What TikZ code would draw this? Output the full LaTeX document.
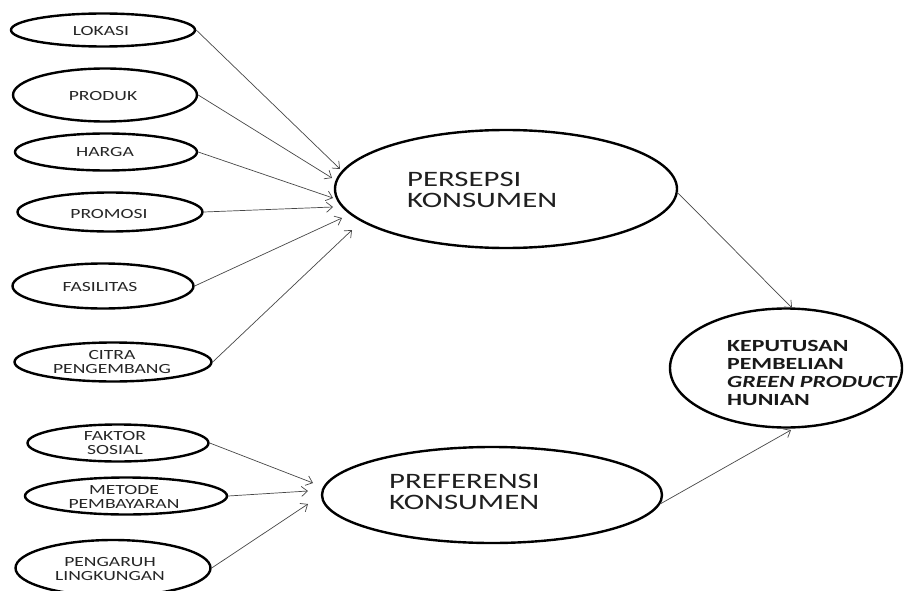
\documentclass[tikz,border=0pt]{standalone}
\usepackage{fontspec}
\setmainfont{Carlito}[FakeStretch=1.4]
\usetikzlibrary{shapes.geometric,arrows.meta}
\begin{document}
\begin{tikzpicture}[x=1pt,y=-1pt,
  oval/.style={draw=black, line width=2.4pt, ellipse, inner sep=0pt},
  smalltxt/.style={font=\fontsize{14}{14.5}\selectfont, align=center, text=black!85, inner sep=0pt},
  bigtxt/.style={font=\fontsize{22}{21}\selectfont, align=left, text=black!88, inner sep=0pt},
  boldtxt/.style={font=\bfseries\fontsize{17}{18}\selectfont, align=left, text=black!90, inner sep=0pt},
  conn/.style={draw=black!72, line width=0.7pt, -{Straight Barb[length=6pt,width=10pt,line width=0.7pt]}}]
\useasboundingbox (0,0) rectangle (904,591);
\fill[white] (0,0) rectangle (904,591);
\begin{scope}
\clip (0,0) rectangle (904,591);
% left ellipses
\node[oval, minimum width=184pt, minimum height=33pt] (lokasi) at (103,30) {};
\node[smalltxt] (lokasit) at (101,31) {LOKASI};
\node[oval, minimum width=184pt, minimum height=53pt] (produk) at (105,95) {};
\node[smalltxt] (produkt) at (103,96) {PRODUK};
\node[oval, minimum width=182pt, minimum height=37pt] (harga) at (106,152) {};
\node[smalltxt] (hargat) at (105,152) {HARGA};
\node[oval, minimum width=185pt, minimum height=39pt] (promosi) at (110,212) {};
\node[smalltxt] (promosit) at (109,214) {PROMOSI};
\node[oval, minimum width=181pt, minimum height=45pt] (fasilitas) at (103,286) {};
\node[smalltxt] (fasilitast) at (100,287) {FASILITAS};
\node[oval, minimum width=197pt, minimum height=39pt] (citra) at (113,362) {};
\node[smalltxt] (citrat) at (112,362) {CITRA\\PENGEMBANG};
\node[oval, minimum width=181pt, minimum height=37pt] (faktor) at (118,443) {};
\node[smalltxt] (faktort) at (115,443) {FAKTOR\\SOSIAL};
\node[oval, minimum width=202pt, minimum height=37pt] (metode) at (126,496) {};
\node[smalltxt] (metodet) at (124,497) {METODE\\PEMBAYARAN};
\node[oval, minimum width=195pt, minimum height=56pt] (pengaruh) at (113,568) {};
\node[smalltxt] (pengaruht) at (110,569) {PENGARUH\\LINGKUNGAN};
% big ellipses
\node[oval, minimum width=342pt, minimum height=118pt] (persepsi) at (506,189) {};
\node[bigtxt, anchor=west] (persepsit) at (407,190) {PERSEPSI\\KONSUMEN};
\node[oval, minimum width=340pt, minimum height=96pt] (preferensi) at (492,495) {};
\node[bigtxt, anchor=west] (preferensit) at (389,492) {PREFERENSI\\KONSUMEN};
\node[oval, minimum width=232pt, minimum height=119pt] (keputusan) at (786,368) {};
\node[boldtxt, anchor=west] (keputusant) at (727,373) {KEPUTUSAN\\PEMBELIAN\\\textit{GREEN PRODUCT}\\HUNIAN};
% connectors
\draw[conn] (lokasi.east) -- ([shift={(-166,-20)}]persepsi.center);
\draw[conn] (produk.east) -- ([shift={(-174,-11)}]persepsi.center);
\draw[conn] (harga.east) -- ([shift={(-173,9)}]persepsi.center);
\draw[conn] (promosi.east) -- ([shift={(-173,18)}]persepsi.center);
\draw[conn] (fasilitas.east) -- ([shift={(-164,29)}]persepsi.center);
\draw[conn] (citra.east) -- ([shift={(-154,41)}]persepsi.center);
\draw[conn] (faktor.east) -- ([shift={(-179,-12)}]preferensi.center);
\draw[conn] (metode.east) -- ([shift={(-184,-4)}]preferensi.center);
\draw[conn] (pengaruh.east) -- ([shift={(-184,9)}]preferensi.center);
\draw[conn] ([shift={(171,3)}]persepsi.center) -- ([shift={(6,-60)}]keputusan.center);
\draw[conn] (preferensi.-3) -- ([shift={(5,62)}]keputusan.center);
\end{scope}
\end{tikzpicture}
\end{document}
